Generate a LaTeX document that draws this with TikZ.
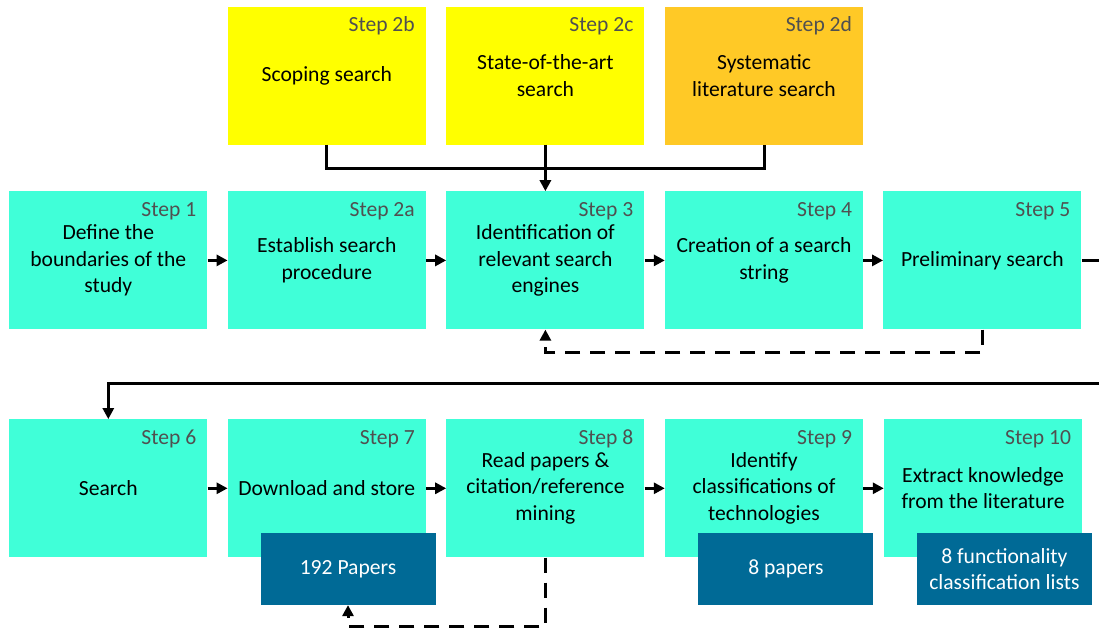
\documentclass[tikz,border=0pt]{standalone}
\usepackage{fontspec}
\setmainfont{Carlito}
\usetikzlibrary{arrows.meta}

\definecolor{stepfill}{HTML}{40FFD8}
\definecolor{scopefill}{HTML}{FFFF00}
\definecolor{slrfill}{HTML}{FFC926}
\definecolor{resultfill}{HTML}{006A96}
\definecolor{taggray}{HTML}{505050}

\tikzset{
  box/.style={rectangle, minimum width=198pt, minimum height=138pt, inner sep=0pt,
    align=center, font=\fontsize{21.6}{26.5}\selectfont},
  stepbox/.style={box, fill=stepfill},
  scopebox/.style={box, fill=scopefill},
  slrbox/.style={box, fill=slrfill},
  resultbox/.style={rectangle, fill=resultfill, minimum width=175pt, minimum height=72pt,
    inner sep=0pt, align=center, text=white, font=\fontsize{21.6}{26}\selectfont},
  steptag/.style={anchor=base east, text=taggray, inner sep=0pt,
    font=\fontsize{21.6}{26}\selectfont},
  flow/.style={line width=3pt, -{Triangle[length=11pt,width=11pt]}},
  link/.style={line width=3pt},
  feedback/.style={line width=3pt, dash pattern=on 15pt off 10pt,
    -{Triangle[length=11pt,width=11pt]}},
}

\newcommand{\tagbox}[2]{\node[steptag] at ([xshift=-11pt,yshift=-25pt]#1.north east) {#2};}

\begin{document}
\begin{tikzpicture}[x=1pt, y=-1pt]
\useasboundingbox (0,0) rectangle (1099,632);
\begin{scope}
\clip (0,0) rectangle (1099,632);

% search variants (top row)
\node[scopebox] (t2b) at (326.8,75.5) {Scoping search};
\node[scopebox] (t2c) at (545.4,75.5) {State-of-the-art\\search};
\node[slrbox]   (t2d) at (764,75.5)   {Systematic\\literature search};
\tagbox{t2b}{Step 2b}
\tagbox{t2c}{Step 2c}
\tagbox{t2d}{Step 2d}

% steps 1--5
\node[stepbox] (s1) at (108.3,260.4) {Define the\\boundaries of the\\study};
\node[stepbox] (s2) at (326.8,260.4) {Establish search\\procedure};
\node[stepbox] (s3) at (545.4,260.4) {Identification of\\relevant search\\engines};
\node[stepbox] (s4) at (764,260.4)   {Creation of a search\\string};
\node[stepbox] (s5) at (982.3,260.4) {Preliminary search};
\tagbox{s1}{Step 1}
\tagbox{s2}{Step 2a}
\tagbox{s3}{Step 3}
\tagbox{s4}{Step 4}
\tagbox{s5}{Step 5}

% steps 6--10
\node[stepbox] (s6) at (108.3,488.3) {Search};
\node[stepbox] (s7) at (326.8,488.3) {Download and store};
\node[stepbox] (s8) at (545.4,488.3) {Read papers \&\\citation/reference\\mining};
\node[stepbox] (s9) at (764,488.3)   {Identify\\classifications of\\technologies};
\node[stepbox] (s10) at (983,488.3)  {Extract knowledge\\from the literature};
\tagbox{s6}{Step 6}
\tagbox{s7}{Step 7}
\tagbox{s8}{Step 8}
\tagbox{s9}{Step 9}
\tagbox{s10}{Step 10}

% outcomes
\node[resultbox] (p192) at (348,568.9)    {192 Papers};
\node[resultbox] (p8)   at (785.9,568.9)  {8 papers};
\node[resultbox] (fcl)  at (1004.4,568.9) {8 functionality\\classification lists};

% merging the search variants into step 3
\coordinate (join) at (545.4,168);
\draw[link] (t2b.south) |- (join) -| (t2d.south);
\draw[flow] (t2c.south) -- (s3.north);

% main sequence
\draw[flow] (s1) -- (s2);
\draw[flow] (s2) -- (s3);
\draw[flow] (s3) -- (s4);
\draw[flow] (s4) -- (s5);
\draw[flow] (s5.east) -- ++(40,0) |- ([yshift=36pt]s6.north) -- (s6.north);
\draw[flow] (s6) -- (s7);
\draw[flow] (s7) -- (s8);
\draw[flow] (s8) -- (s9);
\draw[flow] (s9) -- (s10);

% feedback loops
\draw[feedback] (s5.south) -- ++(0,22.7) -| (s3.south);
\draw[feedback] (s8.south) -- ++(0,69) -| (p192.south);
\end{scope}
\end{tikzpicture}
\end{document}
